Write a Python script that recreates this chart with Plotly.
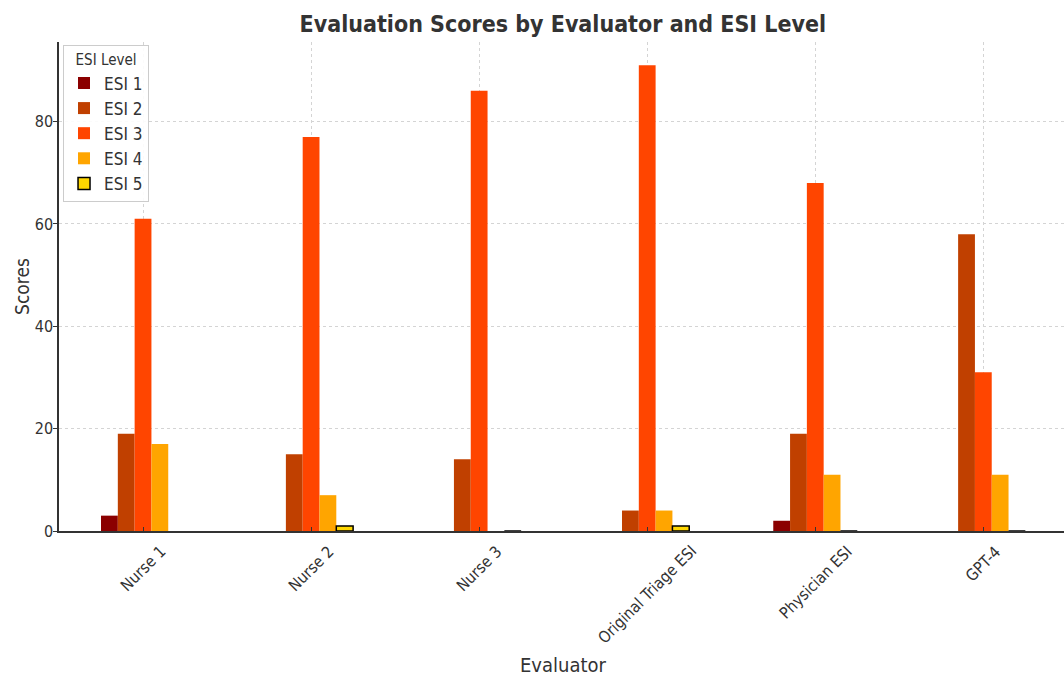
import plotly.graph_objects as go

evaluators = ["Nurse 1", "Nurse 2", "Nurse 3", "Original Triage ESI", "Physician ESI", "GPT-4"]
levels = ["ESI 1", "ESI 2", "ESI 3", "ESI 4", "ESI 5"]
esi_1 = [3, 0, 0, 0, 2, 0]
esi_2 = [19, 15, 14, 4, 19, 58]
esi_3 = [61, 77, 86, 91, 68, 31]
esi_4 = [17, 7, 0, 4, 11, 11]
esi_5 = [None, 1, 0, 1, 0, 0]
colors = ["#8B0000", "#C04000", "#FF4500", "#FFA500", "#FFD700"]

series = [esi_1, esi_2, esi_3, esi_4, esi_5]
font = "DejaVu Sans Condensed, DejaVu Sans"
text_col = "#333333"
grid_col = "#d4d4d4"

fig = go.Figure()
for name, vals, col in zip(levels, series, colors):
    is5 = name == "ESI 5"
    fig.add_trace(go.Bar(
        x=evaluators, y=vals, name=name, legendgroup=name,
        marker=dict(color=col, line=dict(color="black" if is5 else col, width=1.5 if is5 else 0)),
    ))

# matplotlib-style rotated tick labels, centred under each tick
for ev in evaluators:
    fig.add_annotation(
        x=ev, xref="x", y=0, yref="paper", yshift=-8,
        text=ev, textangle=-45, showarrow=False,
        xanchor="center", yanchor="top",
        font=dict(family=font, size=16, color=text_col),
    )

# x axis title
fig.add_annotation(
    x=(563 - 59) / 1005, xref="paper", y=-(665 - 531) / 489, yref="paper",
    xanchor="center", yanchor="middle", showarrow=False,
    text="Evaluator", font=dict(family=font, size=20, color=text_col),
)

fig.update_layout(
    width=1064, height=678,
    margin=dict(l=59, r=0, t=42, b=147),
    paper_bgcolor="white", plot_bgcolor="white",
    barmode="group", bargap=0.5, bargroupgap=0,
    font=dict(family=font, size=16, color=text_col),
    title=dict(text="<b>Evaluation Scores by Evaluator and ESI Level</b>",
               x=0.529, xanchor="center", y=0.964, yanchor="middle",
               font=dict(family=font, size=23, color=text_col)),
    legend=dict(
        title=dict(text="ESI Level", side="top center", font=dict(size=15)),
        x=0.004, y=0.994, xanchor="left", yanchor="top",
        bgcolor="rgba(255,255,255,0.9)", bordercolor="#cccccc", borderwidth=1,
        font=dict(size=17, color=text_col), tracegroupgap=0,
    ),
    showlegend=True,
)

fig.update_xaxes(
    range=[-0.5, 5.48], showticklabels=False, automargin=False,
    showline=True, linecolor="#333333", linewidth=1.5,
    showgrid=True, gridcolor=grid_col, griddash="3px,3px", gridwidth=1,
    ticks="inside", ticklen=4, tickcolor="#333333",
)
fig.update_yaxes(
    range=[0, 95.55], tickvals=[0, 20, 40, 60, 80], automargin=False,
    showline=True, linecolor="#333333", linewidth=1.5,
    showgrid=True, gridcolor=grid_col, griddash="3px,3px", gridwidth=1,
    zeroline=False,
    ticks="outside", ticklen=4, tickcolor="#333333", ticklabelstandoff=-3,
    title=dict(text="Scores", font=dict(size=19, color=text_col), standoff=0),
    tickfont=dict(size=16, color=text_col),
)

# the page's default 8px body margin would shift the whole figure
fig.write_html("out.html", config={"displayModeBar": False},
               post_script="document.body.style.margin='0';")
